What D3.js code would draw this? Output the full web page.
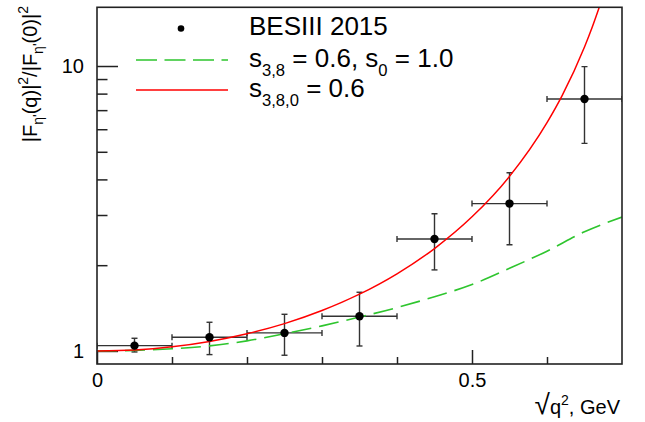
<!DOCTYPE html>
<html>
<head>
<meta charset="utf-8">
<script src="https://cdn.jsdelivr.net/npm/d3@7"></script>
<style>
  html, body { margin: 0; padding: 0; background: #fff; }
  svg { display: block; font-family: "Liberation Sans", Arial, Helvetica, sans-serif; }
</style>
</head>
<body>
<svg id="chart" width="645" height="422"></svg>
<script>
// ---- data ----
const dataX    = [0.05, 0.15, 0.25, 0.35, 0.45, 0.55, 0.65];
const dataXErr = [0.05, 0.05, 0.05, 0.05, 0.05, 0.05, 0.05];
const dataY    = [1.044, 1.117, 1.157, 1.323, 2.47, 3.29, 7.66];
const dataYHi  = [1.108, 1.261, 1.345, 1.607, 3.03, 4.22, 9.95];
const dataYLo  = [0.992, 0.971, 0.966, 1.041, 1.925, 2.36, 5.35];

const redX   = [0, 0.05, 0.1, 0.15, 0.2, 0.25, 0.3, 0.35, 0.4, 0.45, 0.5, 0.55, 0.6, 0.62, 0.65, 0.66, 0.67];
const redY   = [1.0, 1.008, 1.034, 1.080, 1.149, 1.247, 1.386, 1.582, 1.865, 2.288, 2.956, 4.10, 6.33, 7.86, 11.66, 13.62, 16.17];

const greenX = [0, 0.05, 0.1, 0.15, 0.2, 0.25, 0.3, 0.35, 0.4, 0.45, 0.5, 0.55, 0.6, 0.65, 0.7];
const greenY = [1.0, 1.005, 1.018, 1.042, 1.085, 1.15, 1.225, 1.315, 1.42, 1.55, 1.71, 1.95, 2.24, 2.62, 2.95];

const xMajorTicks = [0, 0.5];
const xMinorTicks = [0.1, 0.2, 0.3, 0.4, 0.6];
const xTickLabels = ["0", "0.5"];
const yMajorTicks = [1, 10];
const yMinorTicks = [2, 3, 4, 5, 6, 7, 8, 9];
const yTickLabels = ["1", "10"];

const legendLabels = ["BESIII 2015", "s_{3,8} = 0.6, s_{0} = 1.0", "s_{3,8,0} = 0.6"];

// ---- layout ----
const L = 97, R = 622, T = 7.3, B = 364;
const svg = d3.select("#chart");
const x = d3.scaleLinear().domain([0, 0.7]).range([L, R]);
const y = d3.scaleLog().domain([0.9, 16.07]).range([B, T]);

svg.append("defs").append("clipPath").attr("id", "plotclip")
  .append("rect").attr("x", L).attr("y", T).attr("width", R - L).attr("height", B - T);

// ---- axes (ticks inside) ----
const axCol = "#222";
const xMaj = d3.axisBottom(x).tickValues(xMajorTicks).tickSizeInner(-14).tickSizeOuter(0).tickPadding(9)
  .tickFormat((d, i) => xTickLabels[i]);
const xMin = d3.axisBottom(x).tickValues(xMinorTicks).tickSizeInner(-7).tickSizeOuter(0).tickFormat("");
const yMaj = d3.axisLeft(y).tickValues(yMajorTicks).tickSizeInner(-21).tickSizeOuter(0).tickPadding(13)
  .tickFormat((d, i) => yTickLabels[i]);
const yMin = d3.axisLeft(y).tickValues(yMinorTicks).tickSizeInner(-10.5).tickSizeOuter(0).tickFormat("");

function styleAxis(g) {
  g.select(".domain").remove();
  g.selectAll("line").attr("stroke", axCol).attr("stroke-width", 1.5);
  g.selectAll("text").attr("fill", "#000").attr("font-size", 20)
    .attr("font-family", "Liberation Sans, Arial, sans-serif");
}
svg.append("g").attr("transform", `translate(0,${B})`).call(xMaj).call(styleAxis);
svg.append("g").attr("transform", `translate(0,${B})`).call(xMin).call(styleAxis);
svg.append("g").attr("transform", `translate(${L},0)`).call(yMaj).call(styleAxis);
svg.append("g").attr("transform", `translate(${L},0)`).call(yMin).call(styleAxis);

// ---- data points with error bars ----
const pts = dataX.map((d, i) => ({x: d, xe: dataXErr[i], y: dataY[i], hi: dataYHi[i], lo: dataYLo[i]}));
const eg = svg.append("g").attr("stroke", "#333").attr("stroke-width", 1.4).attr("clip-path", "url(#plotclip)");
const cap = 3;
pts.forEach(p => {
  const cx = x(p.x), cy = y(p.y);
  const x0 = x(p.x - p.xe), x1 = x(p.x + p.xe), y0 = y(p.lo), y1 = y(p.hi);
  eg.append("line").attr("x1", x0).attr("x2", x1).attr("y1", cy).attr("y2", cy);
  eg.append("line").attr("x1", cx).attr("x2", cx).attr("y1", y0).attr("y2", y1);
  eg.append("line").attr("x1", x0).attr("x2", x0).attr("y1", cy - cap).attr("y2", cy + cap);
  eg.append("line").attr("x1", x1).attr("x2", x1).attr("y1", cy - cap).attr("y2", cy + cap);
  eg.append("line").attr("x1", cx - cap).attr("x2", cx + cap).attr("y1", y0).attr("y2", y0);
  eg.append("line").attr("x1", cx - cap).attr("x2", cx + cap).attr("y1", y1).attr("y2", y1);
});

// ---- curves ----
const line = d3.line().x(d => x(d[0])).y(d => y(d[1])).curve(d3.curveMonotoneX);
svg.append("path").datum(greenX.map((d, i) => [d, greenY[i]]))
  .attr("d", line).attr("fill", "none").attr("stroke", "#2ec52e").attr("stroke-width", 1.6)
  .attr("stroke-dasharray", "20,8").attr("clip-path", "url(#plotclip)");
svg.append("path").datum(redX.map((d, i) => [d, redY[i]]))
  .attr("d", line).attr("fill", "none").attr("stroke", "#ff0000").attr("stroke-width", 1.5)
  .attr("clip-path", "url(#plotclip)");

svg.append("g").selectAll("circle").data(pts).join("circle")
  .attr("cx", d => x(d.x)).attr("cy", d => y(d.y)).attr("r", 4.2).attr("fill", "#000");

// ---- frame ----
svg.append("rect").attr("x", L).attr("y", T).attr("width", R - L).attr("height", B - T)
  .attr("fill", "none").attr("stroke", axCol).attr("stroke-width", 1.6);

// ---- legend ----
function richText(sel, str, size) {
  const re = /_\{([^}]*)\}/g;
  let last = 0, m;
  const parts = [];
  while ((m = re.exec(str)) !== null) {
    if (m.index > last) parts.push({t: str.slice(last, m.index), sub: false});
    parts.push({t: m[1], sub: true});
    last = re.lastIndex;
  }
  if (last < str.length) parts.push({t: str.slice(last), sub: false});
  let shifted = false;
  parts.forEach(p => {
    const ts = sel.append("tspan").text(p.t);
    if (p.sub) {
      ts.attr("font-size", size * 0.64).attr("dy", shifted ? 0 : size * 0.36);
      shifted = true;
    } else {
      ts.attr("font-size", size).attr("dy", shifted ? -size * 0.36 : 0);
      shifted = false;
    }
  });
}
const LF = 26;
const lg = svg.append("g").attr("font-size", LF);
const rowBase = [35, 66.5, 96.5];
lg.append("circle").attr("cx", 181).attr("cy", 28.5).attr("r", 3.3).attr("fill", "#000");
lg.append("line").attr("x1", 136).attr("x2", 228).attr("y1", 60).attr("y2", 60)
  .attr("stroke", "#2ec52e").attr("stroke-width", 1.4).attr("stroke-dasharray", "21,7.5");
lg.append("line").attr("x1", 136).attr("x2", 228).attr("y1", 90).attr("y2", 90)
  .attr("stroke", "#ff0000").attr("stroke-width", 1.4);
legendLabels.forEach((s, i) => {
  const t = lg.append("text").attr("x", 249).attr("y", rowBase[i]).attr("fill", "#000");
  richText(t, s, LF);
});

// ---- axis titles ----
const yt = svg.append("text").attr("transform", "translate(37,6) rotate(-90)")
  .attr("text-anchor", "end").attr("font-size", 20).attr("fill", "#000");
const ys = 20;
yt.append("tspan").text("|F");
yt.append("tspan").attr("font-size", ys * 0.7).attr("dy", 6).text("η'");
yt.append("tspan").attr("dy", -6).text("(q)|");
yt.append("tspan").attr("font-size", ys * 0.7).attr("dy", -9).text("2");
yt.append("tspan").attr("dy", 9).text("/|F");
yt.append("tspan").attr("font-size", ys * 0.7).attr("dy", 6).text("η'");
yt.append("tspan").attr("dy", -6).text("(0)|");
yt.append("tspan").attr("font-size", ys * 0.7).attr("dy", -9).text("2");

const xt = svg.append("text").attr("x", 620).attr("y", 414).attr("text-anchor", "end")
  .attr("font-size", 20).attr("fill", "#000");
xt.append("tspan").attr("font-size", 28).text("√");
xt.append("tspan").text("q");
xt.append("tspan").attr("font-size", 14).attr("dy", -9).text("2");
xt.append("tspan").attr("dy", 9).text(", GeV");
</script>
</body>
</html>
